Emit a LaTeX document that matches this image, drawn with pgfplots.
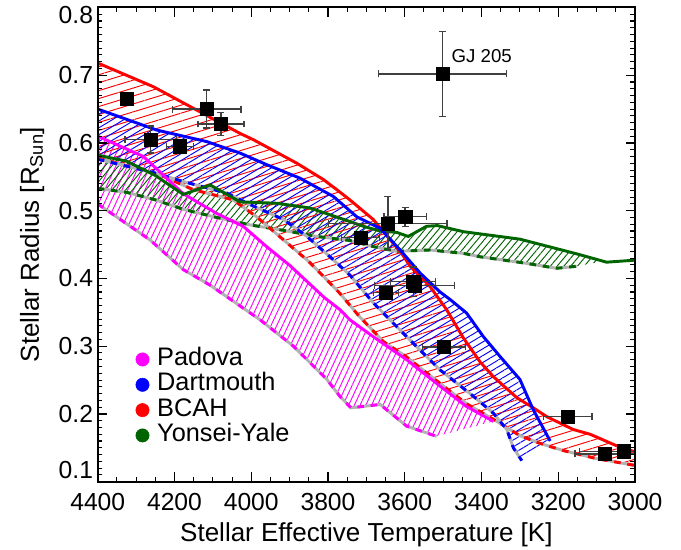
\documentclass[border=0pt]{standalone}
\usepackage{fontspec}
\setmainfont{Liberation Sans}
\usepackage{pgfplots}
\usepackage{pgfplotstable}
\pgfplotsset{compat=1.18}
\usepgfplotslibrary{fillbetween}
\usetikzlibrary{patterns.meta}

\definecolor{padova}{RGB}{255,0,255}
\definecolor{dart}{RGB}{0,0,255}
\definecolor{bcah}{RGB}{255,0,0}
\definecolor{yy}{RGB}{0,100,0}
\definecolor{lgray}{RGB}{178,178,178}

% model tracks: T_eff [K], radius [R_Sun]
\pgfplotstableread{
T R
4400 0.718
4255 0.683
4029 0.614
3995 0.605
3881 0.570
3812 0.546
3777 0.531
3743 0.516
3682 0.487
3608 0.437
3586 0.418
3534 0.388
3491 0.354
3447 0.312
3404 0.277
3369 0.255
3308 0.224
3265 0.209
3230 0.196
3161 0.177
3117 0.170
3048 0.153
3000 0.144
}\bcahU
\pgfplotstableread{
T R
4400 0.578
4238 0.553
4151 0.531
4047 0.516
3986 0.491
3916 0.457
3850 0.425
3803 0.398
3769 0.378
3720 0.345
3656 0.307
3595 0.284
3508 0.245
3439 0.215
3369 0.192
3300 0.168
3250 0.157
3187 0.146
3100 0.134
3000 0.124
}\bcahL
\pgfplotstableread{
T R
4400 0.650
4246 0.619
4116 0.602
4029 0.585
3960 0.568
3873 0.548
3786 0.521
3725 0.491
3664 0.474
3612 0.442
3560 0.408
3508 0.380
3482 0.369
3439 0.349
3395 0.314
3352 0.285
3300 0.251
3265 0.206
3221 0.160
}\dartU
\pgfplotstableread{
T R
4400 0.576
4246 0.555
4177 0.543
4064 0.526
4003 0.509
3916 0.487
3855 0.462
3795 0.432
3743 0.405
3682 0.364
3595 0.314
3508 0.265
3421 0.226
3369 0.201
3334 0.177
3317 0.150
3295 0.131
}\dartL
\pgfplotstableread{
T R
4400 0.610
4281 0.580
4177 0.525
4090 0.496
4021 0.477
3960 0.447
3899 0.419
3810 0.372
3769 0.354
3743 0.339
3682 0.314
3595 0.280
3508 0.241
3439 0.211
3369 0.189
}\padU
\pgfplotstableread{
T R
4400 0.510
4264 0.457
4177 0.413
4107 0.390
3977 0.339
3890 0.300
3803 0.251
3769 0.226
3740 0.209
3664 0.214
3595 0.182
3517 0.167
}\padL
\pgfplotstableread{
T R
4400 0.582
4324 0.573
4250 0.552
4177 0.524
4107 0.538
4029 0.513
3934 0.511
3847 0.504
3795 0.494
3743 0.484
3708 0.477
3664 0.470
3621 0.468
3591 0.462
3543 0.477
3515 0.478
3447 0.469
3300 0.458
3150 0.436
3074 0.424
3000 0.427
}\yyU
\pgfplotstableread{
T R
4400 0.533
4324 0.527
4250 0.516
4177 0.502
4090 0.490
4003 0.479
3916 0.471
3829 0.462
3743 0.456
3682 0.447
3621 0.440
3534 0.442
3447 0.437
3404 0.432
3291 0.423
3204 0.415
3152 0.418
}\yyL
% measured stars
\pgfplotstableread{
T R eT eR
4324 0.665 0 0
4262 0.605 67 0.020
4186 0.595 35 0.010
4116 0.650 89 0.028
4079 0.628 60 0.017
3715 0.460 50 0.006
3644 0.481 154 0.040
3599 0.491 55 0.014
3501 0.702 167 0.063
3649 0.379 33 0.006
3578 0.395 59 0.022
3574 0.390 104 0.010
3498 0.299 56 0.005
3175 0.196 63 0.005
3078 0.141 78 0.005
3029 0.145 115 0.006
}\stars

\begin{document}
\begin{tikzpicture}
\begin{axis}[
  name=ax,
  scale only axis,
  width=403pt, height=355.7pt,
  x dir=reverse,
  xmin=3000, xmax=4400,
  ymin=0.1, ymax=0.8,
  xtick distance=200,
  ytick={0.1,0.2,0.3,0.4,0.5,0.6,0.7,0.8},
  yticklabels={\raisebox{9pt}[\height][\depth]{0.1},0.2,0.3,0.4,0.5,0.6,0.7,\raisebox{-5.6pt}[\height][\depth]{0.8}},
  minor x tick num=3,
  minor y tick num=9,
  tick align=inside,
  major tick length=7pt,
  minor tick length=3.5pt,
  major tick style={black, line width=1pt},
  minor tick style={black, line width=0.8pt},
  axis line style={line width=1.5pt},
  axis on top,
  tick label style={font=\fontsize{18.5}{20}\selectfont},
  /pgf/number format/assume math mode=true,
  xticklabel style={/pgf/number format/1000 sep={}, yshift=-5pt},
  label style={font=\fontsize{19.5}{21}\selectfont},
  xlabel={Stellar Effective Temperature [K]},
  ylabel={Stellar Radius [R\textsubscript{Sun}]},
  xlabel shift=2.5pt,
  ylabel shift=4pt,
  legend cell align=left,
  legend style={at={(0.063,0.2906)}, anchor=north west, draw=none, fill=none,
    font=\fontsize{19}{19}\selectfont,
    nodes={inner ysep=0pt, text height=14pt, text depth=5pt},
    /tikz/every odd column/.append style={column sep=4pt}},
]
\addlegendimage{only marks, mark=*, mark size=5pt, padova}
\addlegendentry{Padova}
\addlegendimage{only marks, mark=*, mark size=5pt, dart}
\addlegendentry{Dartmouth}
\addlegendimage{only marks, mark=*, mark size=5pt, bcah}
\addlegendentry{BCAH}
\addlegendimage{only marks, mark=*, mark size=5pt, yy}
\addlegendentry{Yonsei-Yale}

% band edges
\addplot[name path=pU, draw=none, no marks, forget plot] table {\padU};
\addplot[name path=pL, draw=none, no marks, forget plot] table {\padL};
\addplot[name path=dU, draw=none, no marks, forget plot] table {\dartU};
\addplot[name path=dL, draw=none, no marks, forget plot] table {\dartL};
\addplot[name path=bU, draw=none, no marks, forget plot] table {\bcahU};
\addplot[name path=bL, draw=none, no marks, forget plot] table {\bcahL};
\addplot[name path=yU, draw=none, no marks, forget plot] table {\yyU};
\addplot[name path=yL, draw=none, no marks, forget plot] table {\yyL};

% hatching
\addplot[draw=none, pattern={Lines[angle=65, distance=3.9pt, line width=0.7pt]},
  pattern color=padova, forget plot] fill between[of=pU and pL];
\addplot[draw=none, pattern={Lines[angle=50, distance=3.9pt, line width=0.7pt]},
  pattern color=yy, forget plot] fill between[of=yU and yL, soft clip={domain=3083:4400}];
\addplot[draw=none, pattern={Lines[angle=17, distance=5.7pt, line width=0.7pt]},
  pattern color=bcah, forget plot] fill between[of=bU and bL];
\addplot[draw=none, pattern={Lines[angle=31, distance=4.4pt, line width=0.7pt]},
  pattern color=dart, forget plot] fill between[of=dU and dL];

% lower edges: grey with coloured dashes
\addplot[lgray, line width=2.2pt, no marks, forget plot] table {\padL};
\addplot[padova, line width=2.2pt, dash pattern=on 5pt off 5pt, no marks, forget plot] table {\padL};
\addplot[lgray, line width=2.2pt, no marks, forget plot] table {\yyL};
\addplot[yy, line width=2.2pt, dash pattern=on 5pt off 5pt, no marks, forget plot] table {\yyL};
\addplot[lgray, line width=2.2pt, no marks, forget plot] table {\bcahL};
\addplot[bcah, line width=2.2pt, dash pattern=on 5pt off 5pt, no marks, forget plot] table {\bcahL};
\addplot[lgray, line width=2.2pt, no marks, forget plot] table {\dartL};
\addplot[dart, line width=2.2pt, dash pattern=on 5pt off 5pt, no marks, forget plot] table {\dartL};

% upper edges
\addplot[padova, line width=2.2pt, no marks, forget plot] table {\padU};
\addplot[yy, line width=2.2pt, no marks, forget plot] table {\yyU};
\addplot[bcah, line width=2.2pt, no marks, forget plot] table {\bcahU};
\addplot[dart, line width=2.2pt, no marks, forget plot] table {\dartU};

% stars
\addplot[only marks, mark=square*, mark size=5pt, black, forget plot,
  error bars/.cd, x dir=both, x explicit, y dir=both, y explicit,
  error bar style={line width=1pt, black!75},
  error mark options={rotate=90, mark size=2.6pt, line width=1pt, black!75}]
  table[x=T, y=R, x error=eT, y error=eR] {\stars};

\node[anchor=west, font=\fontsize{14}{14}\selectfont] at (axis cs:3490,0.7286) {GJ 205};
\end{axis}
\pgfresetboundingbox
\path ([xshift=-73.3pt, yshift=-51.2pt]ax.south west) rectangle ([xshift=34.5pt, yshift=5.6pt]ax.north east);
\end{tikzpicture}
\end{document}
